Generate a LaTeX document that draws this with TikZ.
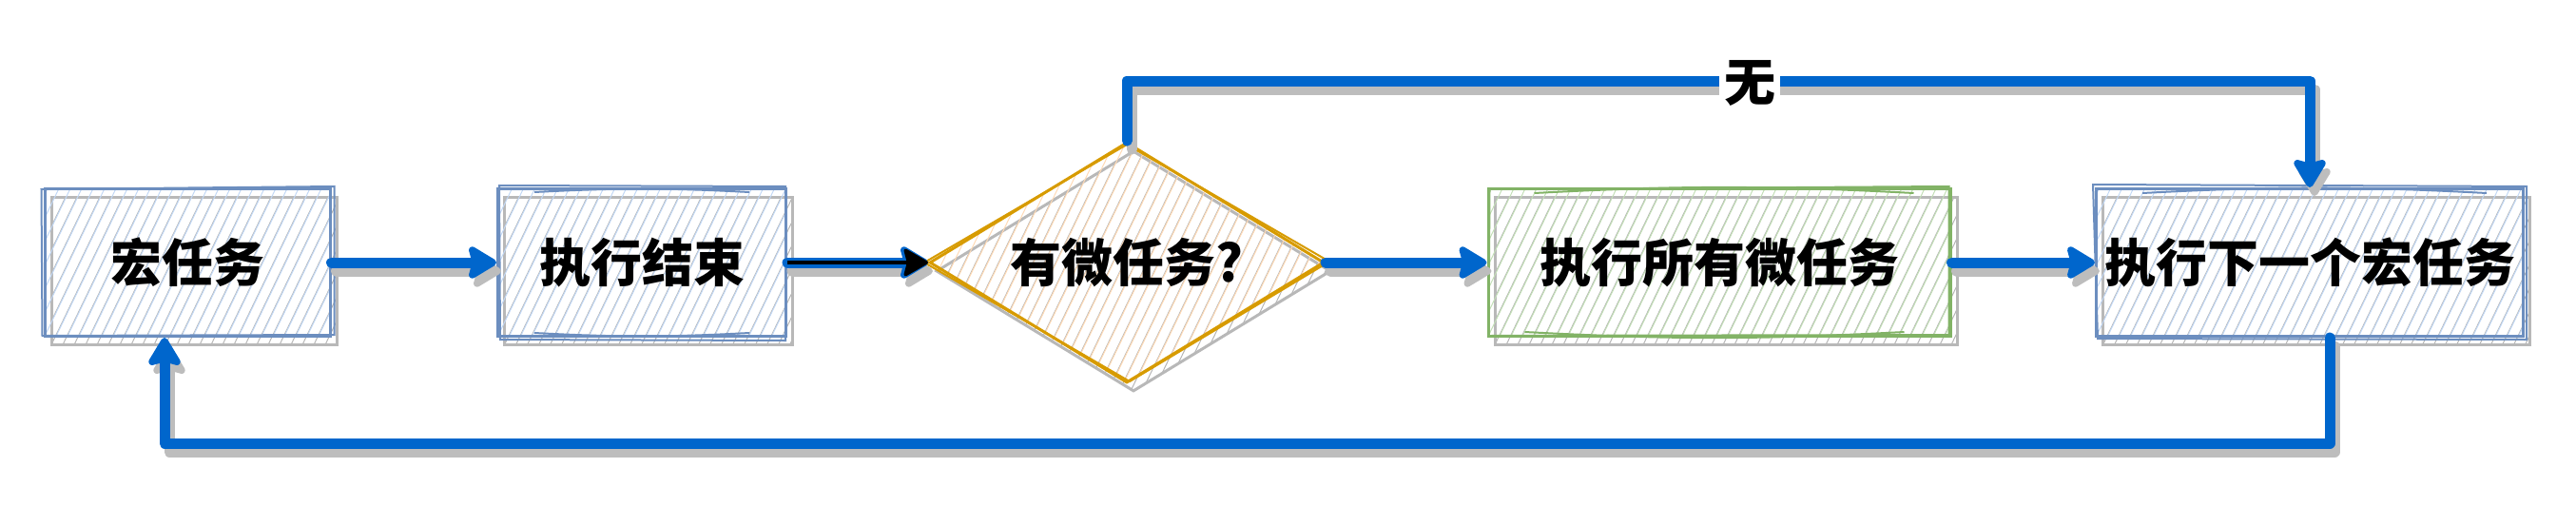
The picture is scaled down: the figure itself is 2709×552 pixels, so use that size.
\documentclass[tikz,border=0pt]{standalone}
\usepackage{fontspec}
\newfontfamily\cjk[BoldFont={Noto Sans CJK SC Black}]{Noto Sans CJK SC}
\usetikzlibrary{shapes.geometric,arrows.meta,calc}
\definecolor{flow}{HTML}{0066CC}
\definecolor{bstroke}{HTML}{6C8EBF}
\definecolor{bhatch}{HTML}{C2D8F5}
\definecolor{ostroke}{HTML}{D79B00}
\definecolor{ohatch}{HTML}{FFDAB5}
\definecolor{gstroke}{HTML}{82B366}
\definecolor{ghatch}{HTML}{C3DFB7}
\definecolor{shade}{HTML}{BDBDBD}
\definecolor{shhatch}{HTML}{B5B5B5}
\definecolor{shline}{HTML}{B8B8B8}
\tikzset{
  hatch/.style={path picture={
    \foreach \k in {-25,...,52}{
      \draw[#1, line width=1pt] ([xshift=\k*12pt]path picture bounding box.south west) -- ++(140pt,290pt);
    }}},
  base/.style={line width=3pt, minimum height=155pt, inner sep=0pt, text=black,
    font=\cjk\bfseries\fontsize{54}{64}\selectfont},
  bluebox/.style={base, rectangle, draw=bstroke, hatch=bhatch},
  greenbox/.style={base, rectangle, draw=gstroke, hatch=ghatch},
  decision/.style={base, diamond, aspect=1.64, minimum height=253pt, draw=ostroke, hatch=ohatch},
  shadowbox/.style={rectangle, draw=shline, line width=3pt, hatch=shhatch, inner sep=0pt, minimum height=155pt},
  shadowdia/.style={diamond, aspect=1.64, draw=shline, line width=3pt, hatch=shhatch, inner sep=0pt, minimum height=253pt},
  sk/.style={draw=#1, line width=2pt},
  tip/.style={-{Stealth[length=34pt,width=40pt,inset=5pt,round]}},
  flow/.style={draw=flow, line width=11pt, line cap=round, line join=round, tip},
  flowsh/.style={draw=shade, line width=11pt, line cap=round, line join=round, tip,
    transform canvas={shift={(5pt,-9pt)}}},
  inner/.style={draw=black, line width=3.5pt, -{Stealth[length=28pt,width=32pt,inset=4pt,round]}},
  lbl/.style={fill=white, inner sep=5pt, text=black, font=\cjk\bfseries\fontsize{54}{64}\selectfont}
}
\begin{document}
\begin{tikzpicture}[x=1pt, y=-1pt]
\useasboundingbox (0,0) rectangle (2709,552);
% shadows of nodes
\node[shadowbox, minimum width=300pt] (s1) at (204,285) {};
\node[shadowbox, minimum width=303pt] (s2) at (682,285) {};
\node[shadowdia, minimum width=415pt] (s3) at (1192,285) {};
\node[shadowbox, minimum width=486pt] (s4) at (1815,285) {};
\node[shadowbox, minimum width=449pt] (s5) at (2436,285) {};
% nodes
\node[bluebox, minimum width=300pt] (b1) at (197,276) {宏任务};
\node[bluebox, minimum width=303pt] (b2) at (675,276) {执行结束};
\node[decision, minimum width=415pt] (d) at (1185,276) {有微任务?};
\node[greenbox, minimum width=486pt] (b4) at (1808,276) {执行所有微任务};
\node[bluebox, minimum width=449pt] (b5) at (2429,276) {执行下一个宏任务};
% second sketch strokes
\draw[sk=bstroke] ([shift={(-2pt,-2pt)}]b1.north west) -- ([shift={(3pt,1pt)}]b1.north east) -- ([shift={(3pt,3pt)}]b1.south east) -- ([shift={(-1pt,2pt)}]b1.south west) -- cycle;
\draw[sk=bstroke] ([shift={(3pt,2pt)}]b2.north west) -- ([shift={(-2pt,1pt)}]b2.north east) -- ([shift={(-2pt,-3pt)}]b2.south east) -- ([shift={(4pt,-2pt)}]b2.south west) -- cycle;
\draw[sk=bstroke] ([shift={(40pt,-5pt)}]b2.north west) to[bend left=3] ([shift={(-40pt,-5pt)}]b2.north east);
\draw[sk=bstroke] ([shift={(40pt,5pt)}]b2.south west) to[bend right=3] ([shift={(-40pt,5pt)}]b2.south east);
\draw[sk=bstroke] ([shift={(-2pt,3pt)}]b5.north west) -- ([shift={(2pt,1pt)}]b5.north east) -- ([shift={(2pt,-2pt)}]b5.south east) -- ([shift={(3pt,-1pt)}]b5.south west) -- cycle;
\draw[sk=bstroke] ([shift={(50pt,-6pt)}]b5.north west) to[bend left=3] ([shift={(-40pt,-6pt)}]b5.north east);
\draw[sk=gstroke] ([shift={(3pt,-2pt)}]b4.north west) -- ([shift={(-3pt,1pt)}]b4.north east) -- ([shift={(-3pt,3pt)}]b4.south east) -- ([shift={(2pt,2pt)}]b4.south west) -- cycle;
\draw[sk=gstroke] ([shift={(50pt,-6pt)}]b4.north west) to[bend left=3] ([shift={(-40pt,-6pt)}]b4.north east);
\draw[sk=gstroke] ([shift={(40pt,6pt)}]b4.south west) to[bend right=3] ([shift={(-50pt,6pt)}]b4.south east);
\draw[sk=ostroke] ([shift={(0pt,-4pt)}]d.north) -- ([shift={(4pt,1pt)}]d.east) -- ([shift={(3pt,3pt)}]d.south) -- ([shift={(-4pt,0pt)}]d.west) -- cycle;
% waypoints
\coordinate (tl) at (1800,85);
\coordinate (bl) at (1300,466);
% connector shadows
\draw[flowsh] (b1) -- (b2);
\draw[flowsh] (b2) -- (d);
\draw[flowsh] (d) -- (b4);
\draw[flowsh] (b4) -- (b5);
\draw[flowsh] (d.north) |- (tl) -| (b5.north);
\draw[flowsh] ([xshift=21pt]b5.south) |- (bl) -| ([xshift=-24pt]b1.south);
% connectors
\draw[flow] (b1) -- (b2);
\draw[flow] (b2) -- (d);
\draw[inner] (b2) -- (d);
\draw[flow] (d) -- (b4);
\draw[flow] (b4) -- (b5);
\draw[flow] (d.north) |- (tl) -| (b5.north);
\draw[flow] ([xshift=21pt]b5.south) |- (bl) -| ([xshift=-24pt]b1.south);
\node[lbl] (wu) at (1840,88) {无};
\end{tikzpicture}
\end{document}
